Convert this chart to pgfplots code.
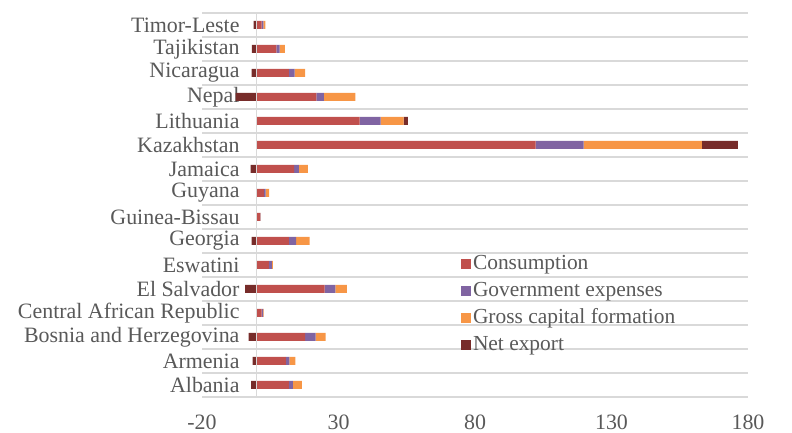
\documentclass[border=0pt]{standalone}
\usepackage{fontspec}
\setmainfont{Liberation Serif}
\usepackage{pgfplots}
\usepackage{pgfplotstable}
\pgfplotsset{compat=1.18}
\definecolor{cons}{HTML}{C0504D}
\definecolor{gov}{HTML}{8064A2}
\definecolor{gcf}{HTML}{F79646}
\definecolor{nex}{HTML}{772C2A}
\definecolor{txt}{HTML}{595959}
\definecolor{grd}{HTML}{D9D9D9}

% rows bottom to top: Albania ... Timor-Leste
\pgfplotstableread{
idx cons gov gcf nexpos nexneg
0 11.8 1.5 3.3 0 -2.0
1 10.7 1.3 2.2 0 -1.5
2 17.8 3.8 3.7 0 -2.9
3 1.8 0.6 0.2 0 0
4 24.9 4.0 4.2 0 -4.2
5 4.5 1.1 0.4 0 0
6 11.8 2.7 4.9 0 -1.8
7 1.3 0.1 0.1 0 0
8 2.7 0.6 1.3 0 0
9 13.7 1.8 3.3 0 -2.2
10 102.2 17.6 43.3 13.2 0
11 37.7 7.7 8.5 1.5 0
12 21.9 2.7 11.6 0 -7.7
13 11.8 2.1 3.9 0 -1.8
14 7.2 1.2 2.0 0 -1.7
15 1.8 0.7 0.7 0 -1.1
}\gdpdata

\begin{document}
\begin{tikzpicture}[font=\fontsize{22}{26}\selectfont]
\path[use as bounding box] (0,0) rectangle (792bp,433bp);
\pgfplotsset{
  base/.style={
    at={(202bp,36bp)}, anchor=south west,
    scale only axis, width=546bp, height=384bp,
    xmin=-20, xmax=180, ymin=-0.5, ymax=15.5,
    axis line style={draw=none},
    major tick length=0pt, minor tick length=0pt,
    tick label style={text=txt},
  }
}
\begin{axis}[
  base,
  xbar stacked, bar width=8bp,
  xtick={-20,30,80,130,180},
  xticklabels={-20,30,80,130,180},
  xticklabel style={yshift=-14bp},
  ytick={0,...,15},
  yticklabels={Albania,Armenia,Bosnia and Herzegovina,Central African Republic,El Salvador,Eswatini,Georgia,Guinea-Bissau,Guyana,Jamaica,Kazakhstan,Lithuania,Nepal,Nicaragua,Tajikistan,Timor-Leste},
  yticklabel style={xshift=41bp},
  minor ytick={-0.5,0.5,...,15.5},
  yminorgrids=true,
  minor grid style={grd, line width=1.5bp},
  legend cell align=left,
  legend image code/.code={\fill[#1] (0bp,-5bp) rectangle (10bp,5bp);},
  legend style={at={(0.474,0.375)}, anchor=north west, draw=none, fill=none,
    inner sep=0pt, row sep=5bp, text=txt,
    font=\fontsize{21.5}{21.5}\selectfont,
    nodes={inner sep=2bp, text height=14bp, text depth=4bp}},
]
\addplot[fill=cons, draw=none] table[x=cons, y=idx] {\gdpdata};
\addlegendentry{Consumption}
\addplot[fill=gov, draw=none] table[x=gov, y=idx] {\gdpdata};
\addlegendentry{Government expenses}
\addplot[fill=gcf, draw=none] table[x=gcf, y=idx] {\gdpdata};
\addlegendentry{Gross capital formation}
\addplot[fill=nex, draw=none] table[x=nexpos, y=idx] {\gdpdata};
\addlegendentry{Net export}
\end{axis}
\begin{axis}[
  base,
  xbar, bar width=8bp,
  xtick=\empty, ytick=\empty,
  extra x ticks={0}, extra x tick labels={},
  extra x tick style={grid=major, major grid style={grd, line width=1.5bp}},
  axis on top,
]
\addplot[fill=nex, draw=none] table[x=nexneg, y=idx] {\gdpdata};
\end{axis}
\end{tikzpicture}
\end{document}
